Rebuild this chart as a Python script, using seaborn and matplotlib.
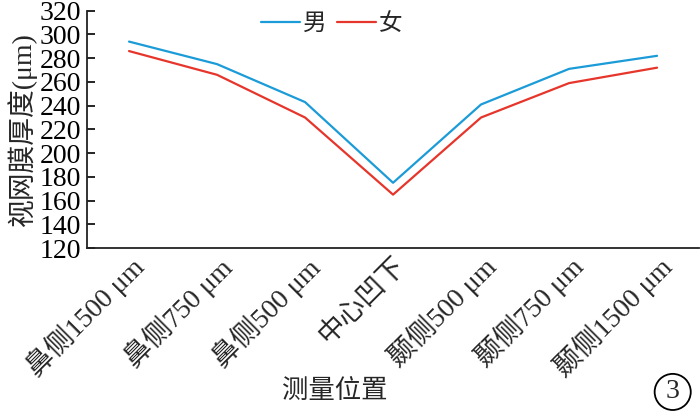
import pandas as pd
import matplotlib
matplotlib.use("Agg")
import matplotlib.pyplot as plt
import seaborn as sns

# 测量位置与视网膜厚度
positions = ["鼻侧1500 μm", "鼻侧750 μm", "鼻侧500 μm", "中心凹下",
             "颞侧500 μm", "颞侧750 μm", "颞侧1500 μm"]
male = [294, 275, 243, 175, 241, 271, 282]
female = [286, 266, 230, 165, 230, 259, 272]
groups = ["男", "女"]
yticks = [120, 140, 160, 180, 200, 220, 240, 260, 280, 300, 320]

BLUE = "#1b9bd7"
RED = "#e6352b"
FONTS = ["Liberation Serif", "Noto Sans CJK SC"]

sns.set_style("ticks")
plt.rcParams["font.family"] = FONTS


def main():
    df = pd.DataFrame({
        "位置": positions * 2,
        "厚度": male + female,
        "性别": [groups[0]] * len(male) + [groups[1]] * len(female),
    })

    fig = plt.figure(figsize=(7, 4.13), dpi=100)
    ax = fig.add_axes([0.124, 0.3995, 0.875, 0.5745])

    sns.lineplot(data=df, x="位置", y="厚度", hue="性别", sort=False,
                 palette=[BLUE, RED], linewidth=1.6, ax=ax)

    ax.set_xlim(-0.48, 6.48)
    ax.set_ylim(120, 320)
    ax.set_yticks(yticks)
    ax.tick_params(axis="y", direction="in", length=6, width=1.2,
                   labelsize=20, pad=4, colors="black")
    ax.tick_params(axis="x", length=0, labelsize=20, pad=3)
    for lab in ax.get_xticklabels():
        lab.set_rotation(45)
        lab.set_ha("right")
        lab.set_va("top")
        lab.set_rotation_mode("anchor")

    sns.despine(ax=ax)
    for s in ("left", "bottom"):
        ax.spines[s].set_linewidth(1.3)
        ax.spines[s].set_color("#222222")

    ax.set_ylabel("视网膜厚度(μm)", fontsize=20, labelpad=2)
    ax.set_xlabel("测量位置", fontsize=19)
    ax.xaxis.set_label_coords(0.405, -0.55)

    ax.legend(loc="upper center", bbox_to_anchor=(0.40, 1.08), ncol=2,
              frameon=False, fontsize=17, handlelength=1.65,
              handletextpad=0.12, columnspacing=0.45)

    # 右下角的图号
    fig.text(0.961, 0.051, "3", ha="center", va="center", fontsize=20,
             bbox=dict(boxstyle="circle,pad=0.2", fc="white", ec="black", lw=1.3))

    fig.savefig("out.png", dpi=100)
    plt.close(fig)


if __name__ == "__main__":
    main()
